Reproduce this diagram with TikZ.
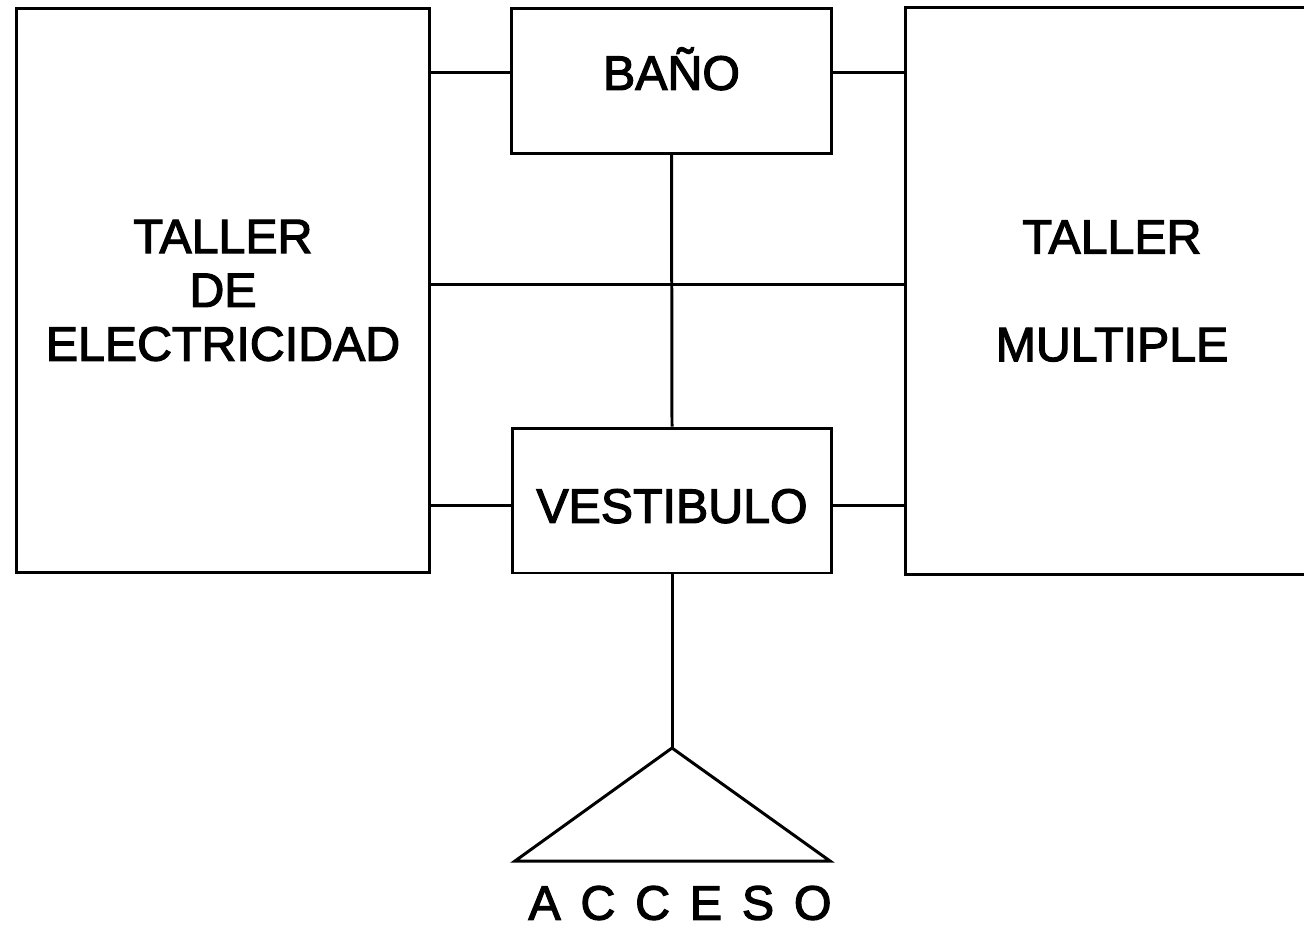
\documentclass[tikz,border=0pt]{standalone}
\usepackage{fontspec}
\setmainfont[FakeBold=2.5]{Liberation Sans}
\begin{document}
\begin{tikzpicture}[x=0.02cm, y=-0.02cm,
    local/.style={draw, line width=1.7pt, align=center, inner sep=0pt,
      font=\fontsize{27.5}{30.6}\selectfont},
    enlace/.style={line width=1.7pt}]
    % Fijar el area del dibujo
    \useasboundingbox (0,0) rectangle (1304,927);

    % Dibujar los talleres
    \node[local, minimum width=8.28cm, minimum height=11.3cm] (electricidad) at (223,290.5) {TALLER\\DE\\ELECTRICIDAD};
    \node[local, minimum width=8.28cm, minimum height=11.34cm] (multiple) at (1112,291) {TALLER\\[30.6pt]MULTIPLE};

    % Dibujar el bano y el vestibulo
    \node[local, minimum width=6.42cm, minimum height=2.9cm, text height=20pt, text depth=10pt] (bano) at (671.5,81) {BAÑO};
    \node[local, minimum width=6.4cm, minimum height=2.9cm, text height=25.4pt, text depth=0pt] (vestibulo) at (672,500.5) {VESTIBULO};

    % Puntos de paso de los enlaces
    \coordinate (bano izq) at ([yshift=0.18cm]bano.west);
    \coordinate (bano der) at ([yshift=0.18cm]bano.east);
    \coordinate (vest izq) at ([yshift=-0.1cm]vestibulo.west);
    \coordinate (vest der) at ([yshift=-0.1cm]vestibulo.east);
    \coordinate (pasillo) at (672,284);

    % Enlaces entre locales
    \draw[enlace] (electricidad.east |- bano izq) -- (bano izq);
    \draw[enlace] (bano der) -- (multiple.west |- bano der);
    \draw[enlace] (electricidad.east |- pasillo) -- (multiple.west |- pasillo);
    \draw[enlace] (electricidad.east |- vest izq) -- (vest izq);
    \draw[enlace] (vest der) -- (multiple.west |- vest der);
    \draw[enlace] (bano.south) -- (vestibulo.north);

    % Dibujar el acceso
    \coordinate (acceso) at (672,748);
    \coordinate (acceso izq) at (515,861);
    \coordinate (acceso der) at (830,861);
    \draw[enlace] (vestibulo.south) -- (acceso);
    \draw[enlace, line join=miter] (acceso) -- (acceso izq) -- (acceso der) -- cycle;
    \node[font=\fontsize{27.5}{30.6}\selectfont, inner sep=0pt] (rotulo) at (680,903) {\spaceskip=0.41em A C C E S O};
\end{tikzpicture}
\end{document}
